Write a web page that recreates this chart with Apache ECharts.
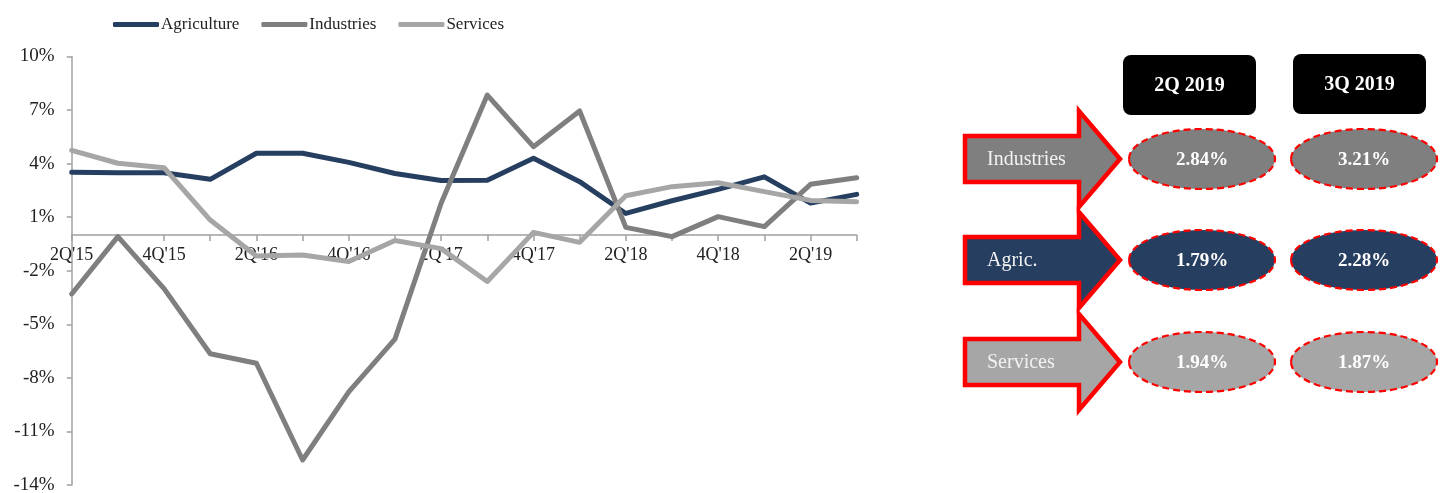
<!DOCTYPE html>
<html>
<head>
<meta charset="utf-8">
<title>Sector growth</title>
<script src="https://cdn.jsdelivr.net/npm/echarts@6/dist/echarts.min.js"></script>
<style>
  html, body { margin: 0; padding: 0; background: #ffffff; }
  #chart { width: 1450px; height: 493px; }
</style>
</head>
<body>
<div id="chart"></div>
<script>
// Quarterly growth by sector, 2Q'15 - 3Q'19 (%)
const quarters = ["2Q'15", "3Q'15", "4Q'15", "1Q'16", "2Q'16", "3Q'16", "4Q'16", "1Q'17", "2Q'17",
                  "3Q'17", "4Q'17", "1Q'18", "2Q'18", "3Q'18", "4Q'18", "1Q'19", "2Q'19", "3Q'19"];
const agriculture = [3.51, 3.49, 3.49, 3.12, 4.58, 4.58, 4.07, 3.45, 3.06, 3.07, 4.3, 2.99, 1.21, 1.92, 2.56, 3.26, 1.79, 2.28];
const industries = [-3.3, -0.09, -3.0, -6.65, -7.18, -12.6, -8.78, -5.83, 1.78, 7.84, 4.95, 6.95, 0.43, -0.09, 1.03, 0.47, 2.84, 3.21];
const services = [4.74, 4.02, 3.77, 0.84, -1.17, -1.12, -1.48, -0.31, -0.76, -2.6, 0.15, -0.41, 2.2, 2.71, 2.93, 2.43, 1.94, 1.87];
const yMin = -14, yMax = 10;
const yTicks = [-14, -11, -8, -5, -2, 1, 4, 7, 10];

// Summary panel: last two quarters per sector
const panelHeaders = ['2Q 2019', '3Q 2019'];
const panelRows = [
  { label: 'Industries', values: industries.slice(-2), color: '#7f7f7f' },
  { label: 'Agric.', values: agriculture.slice(-2), color: '#263f60' },
  { label: 'Services', values: services.slice(-2), color: '#a6a6a6' }
];

const FONT = '"Liberation Serif", "Times New Roman", serif';
const COLORS = { agri: '#263f60', ind: '#7f7f7f', serv: '#a6a6a6' };

const graphics = [];
// header boxes
const headerBoxes = [{ x: 1123, y: 55 }, { x: 1293, y: 54 }];
panelHeaders.forEach((h, i) => {
  const b = headerBoxes[i];
  graphics.push({
    type: 'rect', shape: { x: b.x, y: b.y, width: 133, height: 60, r: 8 },
    style: { fill: '#000000' }
  });
  graphics.push({
    type: 'text', x: b.x + 66.5, y: b.y + 31,
    style: { text: h, fill: '#ffffff', font: 'bold 20px ' + FONT, align: 'center', verticalAlign: 'middle' }
  });
});

// arrows and value ellipses
const rowCenters = [159, 260, 362];
const colCenters = [1202, 1364];
panelRows.forEach((row, r) => {
  const cy = rowCenters[r];
  const L = 965, neck = 1079, tip = 1120, sh = 23, hh = 48;
  graphics.push({
    type: 'polygon',
    shape: { points: [[L, cy - sh], [neck, cy - sh], [neck, cy - hh], [tip, cy], [neck, cy + hh], [neck, cy + sh], [L, cy + sh]] },
    style: { fill: row.color, stroke: '#ff0000', lineWidth: 4.5, lineJoin: 'miter' }
  });
  graphics.push({
    type: 'text', x: 987, y: cy + 1,
    style: { text: row.label, fill: '#f2f2f2', font: '20px ' + FONT, align: 'left', verticalAlign: 'middle' }
  });
  row.values.forEach((v, c) => {
    graphics.push({
      type: 'ellipse', shape: { cx: colCenters[c], cy: cy, rx: 73, ry: 30 },
      style: { fill: row.color, stroke: '#ff0000', lineWidth: 2.2, lineDash: [7, 4] }
    });
    graphics.push({
      type: 'text', x: colCenters[c], y: cy + 1,
      style: { text: v.toFixed(2) + '%', fill: '#ffffff', font: 'bold 19px ' + FONT, align: 'center', verticalAlign: 'middle' }
    });
  });
});

const chart = echarts.init(document.getElementById('chart'), null, { renderer: 'canvas' });

function lineSeries(name, data, color) {
  return {
    name: name, type: 'line', data: data, symbol: 'none', smooth: false,
    lineStyle: { color: color, width: 5, cap: 'round', join: 'round' },
    itemStyle: { color: color }
  };
}

// plot area; the category axis sits on the zero line
const grid = { left: 71.7, right: 593.3, top: 56.5, bottom: 8 };
const plotHeight = 493 - grid.top - grid.bottom;
const zeroOffset = plotHeight * (0 - yMin) / (yMax - yMin);

chart.setOption({
  animation: false,
  backgroundColor: '#ffffff',
  textStyle: { fontFamily: FONT },
  legend: {
    left: 108, top: 11,
    icon: 'roundRect', itemWidth: 46, itemHeight: 5, itemGap: 22,
    textStyle: { fontFamily: FONT, fontSize: 17, color: '#222222', padding: [0, 0, 0, -3] },
    data: ['Agriculture', 'Industries', 'Services']
  },
  grid: Object.assign({ containLabel: false, outerBoundsMode: 'none' }, grid),
  xAxis: {
    type: 'category', data: quarters, boundaryGap: false,
    position: 'bottom', offset: -zeroOffset,
    axisLine: { onZero: false, lineStyle: { color: '#a0a0a0', width: 1.5 } },
    axisTick: { show: true, interval: 0, length: 6, lineStyle: { color: '#a0a0a0', width: 1.5 } },
    axisLabel: { interval: 1, margin: 11, color: '#222222', fontFamily: FONT, fontSize: 18 },
    splitLine: { show: false }
  },
  yAxis: {
    type: 'value', min: yMin, max: yMax,
    axisLine: { show: true, lineStyle: { color: '#a0a0a0', width: 1.5 } },
    axisTick: { show: true, length: 5, customValues: yTicks, lineStyle: { color: '#a0a0a0', width: 1.5 } },
    axisLabel: { customValues: yTicks, margin: 17, color: '#222222', fontFamily: FONT, fontSize: 19, formatter: v => v + '%' },
    splitLine: { show: false }
  },
  series: [
    lineSeries('Agriculture', agriculture, COLORS.agri),
    lineSeries('Industries', industries, COLORS.ind),
    lineSeries('Services', services, COLORS.serv)
  ],
  graphic: graphics
});
</script>
</body>
</html>
